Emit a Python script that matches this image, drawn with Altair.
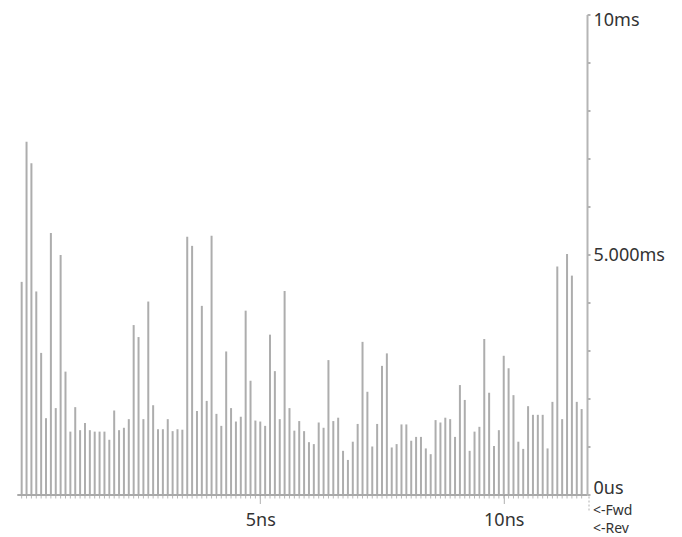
import altair as alt
import pandas as pd

# bin positions (ns) of the 116 histogram bars
times_ns = [round(0.1 * k, 1) for k in range(1, 117)]
# bar heights in ms
durations_ms = [
    4.43, 7.35, 6.90, 4.23, 2.95, 1.59, 5.45, 1.80, 4.99, 2.56,
    1.31, 1.82, 1.34, 1.49, 1.34, 1.31, 1.31, 1.31, 1.14, 1.75,
    1.34, 1.39, 1.57, 3.53, 3.28, 1.57, 4.02, 1.86, 1.36, 1.36,
    1.57, 1.32, 1.36, 1.35, 5.37, 5.18, 1.74, 3.93, 1.95, 5.39,
    1.68, 1.43, 2.98, 1.80, 1.52, 1.62, 3.83, 2.37, 1.54, 1.52,
    1.43, 3.33, 2.57, 1.57, 4.24, 1.80, 1.33, 1.53, 1.32, 1.09,
    1.05, 1.50, 1.39, 2.80, 1.53, 1.60, 0.91, 0.72, 1.10, 1.47,
    3.18, 2.14, 1.00, 1.47, 2.68, 2.94, 0.98, 1.05, 1.46, 1.46,
    1.12, 1.20, 1.20, 0.96, 0.84, 1.55, 1.50, 1.60, 1.57, 1.20,
    2.28, 1.97, 0.91, 1.31, 1.41, 3.24, 2.12, 1.01, 1.34, 2.89,
    2.63, 2.07, 1.10, 0.95, 1.84, 1.66, 1.66, 1.66, 0.96, 1.93,
    4.75, 1.57, 5.01, 4.56, 1.93, 1.78,
]
x_tick_values = [5, 10]
x_tick_labels = ["5ns", "10ns"]
y_tick_values = list(range(0, 11))
y_label_map = {0: "0us", 5: "5.000ms", 10: "10ms"}
side_labels = ["<-Fwd", "<-Rev"]

df = pd.DataFrame({"t": times_ns, "v": durations_ms, "base": [0] * len(times_ns)})

W = 570.2
H = 480
FONT = "Noto Sans"

xscale = alt.Scale(domain=[0, 11.71], nice=False, zero=False)
yscale = alt.Scale(domain=[0, 10], nice=False)

x_label_expr = " : ".join(
    f"datum.value == {v} ? '{l}'" for v, l in zip(x_tick_values, x_tick_labels)
) + " : ''"
y_label_expr = " : ".join(
    f"datum.value == {v} ? '{l}'" for v, l in y_label_map.items()
) + " : ''"

bars = alt.Chart(df).mark_rule(color="#adadad", strokeWidth=2).encode(
    x=alt.X(
        "t:Q",
        scale=xscale,
        axis=alt.Axis(
            values=x_tick_values,
            labelExpr=x_label_expr,
            title=None,
            grid=False,
            tickSize=9,
            tickColor="#b0b0b0",
            tickWidth=1,
            domainColor="#8c8c8c",
            domainWidth=1.5,
            labelFont=FONT,
            labelFontSize=18,
            labelColor="#333333",
            labelPadding=8,
            labelFlush=False,
        ),
    ),
    y=alt.Y(
        "v:Q",
        scale=yscale,
        axis=alt.Axis(
            orient="right",
            values=y_tick_values,
            labelExpr=y_label_expr,
            title=None,
            grid=False,
            tickSize=3,
            tickColor="#999999",
            tickWidth=1.5,
            domainColor="#b5b5b5",
            domainWidth=2,
            labelFont=FONT,
            labelFontSize=18,
            labelColor="#333333",
            labelPadding=3,
            labelFlush=False,
            labelBound=False,
            labelOverlap=False,
            labelBaseline="middle",
            labelOffset={
                "condition": [
                    {"test": "datum.value == 0", "value": -6},
                    {"test": "datum.value == 10", "value": 6},
                ],
                "value": 1,
            },
        ),
    ),
    y2="base:Q",
)

minor = alt.Chart(df).mark_rule(color="#b8b8b8", strokeWidth=1).encode(
    x=alt.X("t:Q", scale=xscale),
    y=alt.value(H + 1.5),
    y2=alt.value(H + 4),
)

dash = alt.Chart(df.head(1)).mark_rule(color="#b0b0b0", strokeWidth=1, strokeDash=[2, 2]).encode(
    x=alt.value(W + 2),
    y=alt.value(H + 2),
    y2=alt.value(H + 16),
)

fwd_df = pd.DataFrame({"label": [side_labels[0]]})
rev_df = pd.DataFrame({"label": [side_labels[1]]})
text_style = dict(align="left", baseline="middle", font=FONT, fontSize=14, color="#333333")
fwd = alt.Chart(fwd_df).mark_text(**text_style).encode(
    text="label:N", x=alt.value(W + 6), y=alt.value(H + 16)
)
rev = alt.Chart(rev_df).mark_text(**text_style).encode(
    text="label:N", x=alt.value(W + 6), y=alt.value(H + 34.5)
)

chart = (
    alt.layer(bars, minor, dash, fwd, rev)
    .properties(
        width=W,
        height=H,
        autosize="none",
        padding={"left": 8.8, "top": 6.5, "right": 86, "bottom": 44},
        background="white",
    )
    .configure_view(stroke=None)
)

chart.save("out.html", embed_options={"renderer": "svg", "actions": False})
